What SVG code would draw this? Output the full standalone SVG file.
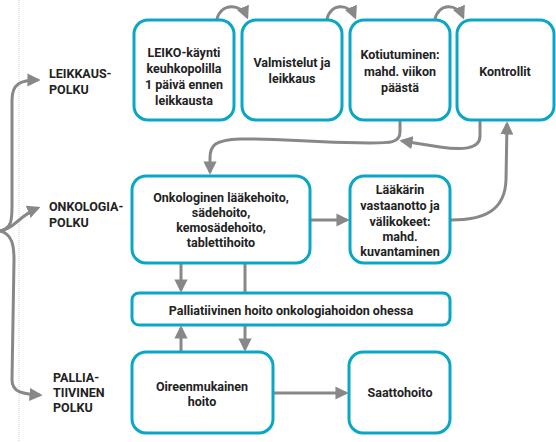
<svg xmlns="http://www.w3.org/2000/svg" width="556" height="442" viewBox="0 0 556 442">
<defs>
<style>
.box{fill:#fff;stroke:#0aa6c6;stroke-width:3}
.t{font-family:Roboto,"Liberation Sans",sans-serif;font-weight:bold;font-size:12.5px;fill:#222;text-anchor:middle}
.lbl{font-family:Roboto,"Liberation Sans",sans-serif;font-weight:bold;font-size:12.5px;fill:#222}
.c{fill:none;stroke:#888;stroke-width:3}
</style>
<marker id="ah" viewBox="0 0 10 10" refX="8" refY="5" markerWidth="4.4" markerHeight="4.4" orient="auto" markerUnits="strokeWidth">
<path d="M0,0 L10,5 L0,10 z" fill="#888"/>
</marker>
</defs>
<rect width="556" height="442" fill="#fff"/>
<line x1="19" y1="0" x2="19" y2="442" stroke="#ccc" stroke-width="1" stroke-dasharray="1,1"/>
<g id="connectors">
<path class="c" marker-end="url(#ah)" d="M0,231 C12,228 12,220 12,205 L12,100 C12,84 20,80 38,80"/>
<path class="c" marker-end="url(#ah)" d="M0,231 C14,229 20,215 38,208"/>
<path class="c" marker-end="url(#ah)" d="M0,231 C12,234 14,245 14,260 L12,380 C12,392 22,394 40,395"/>
<path class="c" marker-end="url(#ah)" d="M217,19 C221,3 241,3 247,17"/>
<path class="c" marker-end="url(#ah)" d="M327,19 C331,3 349,3 355,17"/>
<path class="c" marker-end="url(#ah)" d="M435,19 C439,3 457,3 463,17"/>
<path class="c" marker-end="url(#ah)" d="M400,121 L400,132 C400,143 390,143 370,143 C300,143 290,138 240,139 C215,140 210,145 210,158 L210,172"/>
<path class="c" marker-end="url(#ah)" d="M480,121 L480,136 C480,150 460,150 440,147 L402,141"/>
<path class="c" marker-end="url(#ah)" d="M451,220 C485,220 505,210 506,180 L507,124"/>
<path class="c" marker-end="url(#ah)" d="M311,220 L347,220"/>
<path class="c" marker-end="url(#ah)" d="M274,393 L346,393"/>
<path class="c" marker-end="url(#ah)" d="M181,264 L181,290"/>
<path class="c" marker-end="url(#ah)" d="M245,264 L245,349"/>
<path class="c" marker-end="url(#ah)" d="M181,351 L181,328"/>
</g>
<g id="label-leikkaus"><text class="lbl" x="49" y="78">LEIKKAUS-</text><text class="lbl" x="49" y="94">POLKU</text></g>
<g id="label-onkologia"><text class="lbl" x="49" y="211">ONKOLOGIA-</text><text class="lbl" x="49" y="227">POLKU</text></g>
<g id="label-palliatiivinen"><text class="lbl" x="53" y="382">PALLIA-</text><text class="lbl" x="53" y="397">TIIVINEN</text><text class="lbl" x="53" y="412">POLKU</text></g>
<g id="n1"><rect class="box" x="134" y="20" width="100" height="100" rx="14"/><text class="t" x="184" y="57">LEIKO-käynti</text><text class="t" x="184" y="73">keuhkopolilla</text><text class="t" x="184" y="89">1 päivä ennen</text><text class="t" x="184" y="105">leikkausta</text></g>
<g id="n2"><rect class="box" x="242" y="20" width="100" height="100" rx="14"/><text class="t" x="292" y="67">Valmistelut ja</text><text class="t" x="292" y="83">leikkaus</text></g>
<g id="n3"><rect class="box" x="350" y="20" width="100" height="100" rx="14"/><text class="t" x="400" y="59">Kotiutuminen:</text><text class="t" x="400" y="76">mahd. viikon</text><text class="t" x="400" y="92">päästä</text></g>
<g id="n4"><rect class="box" x="457" y="20" width="97" height="100" rx="14"/><text class="t" x="505" y="76">Kontrollit</text></g>
<g id="n5"><rect class="box" x="132" y="176" width="178" height="87" rx="14"/><text class="t" x="221" y="202">Onkologinen lääkehoito,</text><text class="t" x="221" y="217">sädehoito,</text><text class="t" x="221" y="232">kemosädehoito,</text><text class="t" x="221" y="247">tablettihoito</text></g>
<g id="n6"><rect class="box" x="350" y="176" width="100" height="87" rx="14"/><text class="t" x="400" y="194">Lääkärin</text><text class="t" x="400" y="210">vastaanotto ja</text><text class="t" x="400" y="226">välikokeet:</text><text class="t" x="400" y="241">mahd.</text><text class="t" x="400" y="256">kuvantaminen</text></g>
<g id="n7"><rect class="box" x="132" y="293" width="318" height="32" rx="7"/><text class="t" x="291" y="315">Palliatiivinen hoito onkologiahoidon ohessa</text></g>
<g id="n8"><rect class="box" x="132" y="352" width="141" height="81" rx="14"/><text class="t" x="202" y="391">Oireenmukainen</text><text class="t" x="202" y="406">hoito</text></g>
<g id="n9"><rect class="box" x="349" y="352" width="101" height="81" rx="14"/><text class="t" x="400" y="397">Saattohoito</text></g>
</svg>
